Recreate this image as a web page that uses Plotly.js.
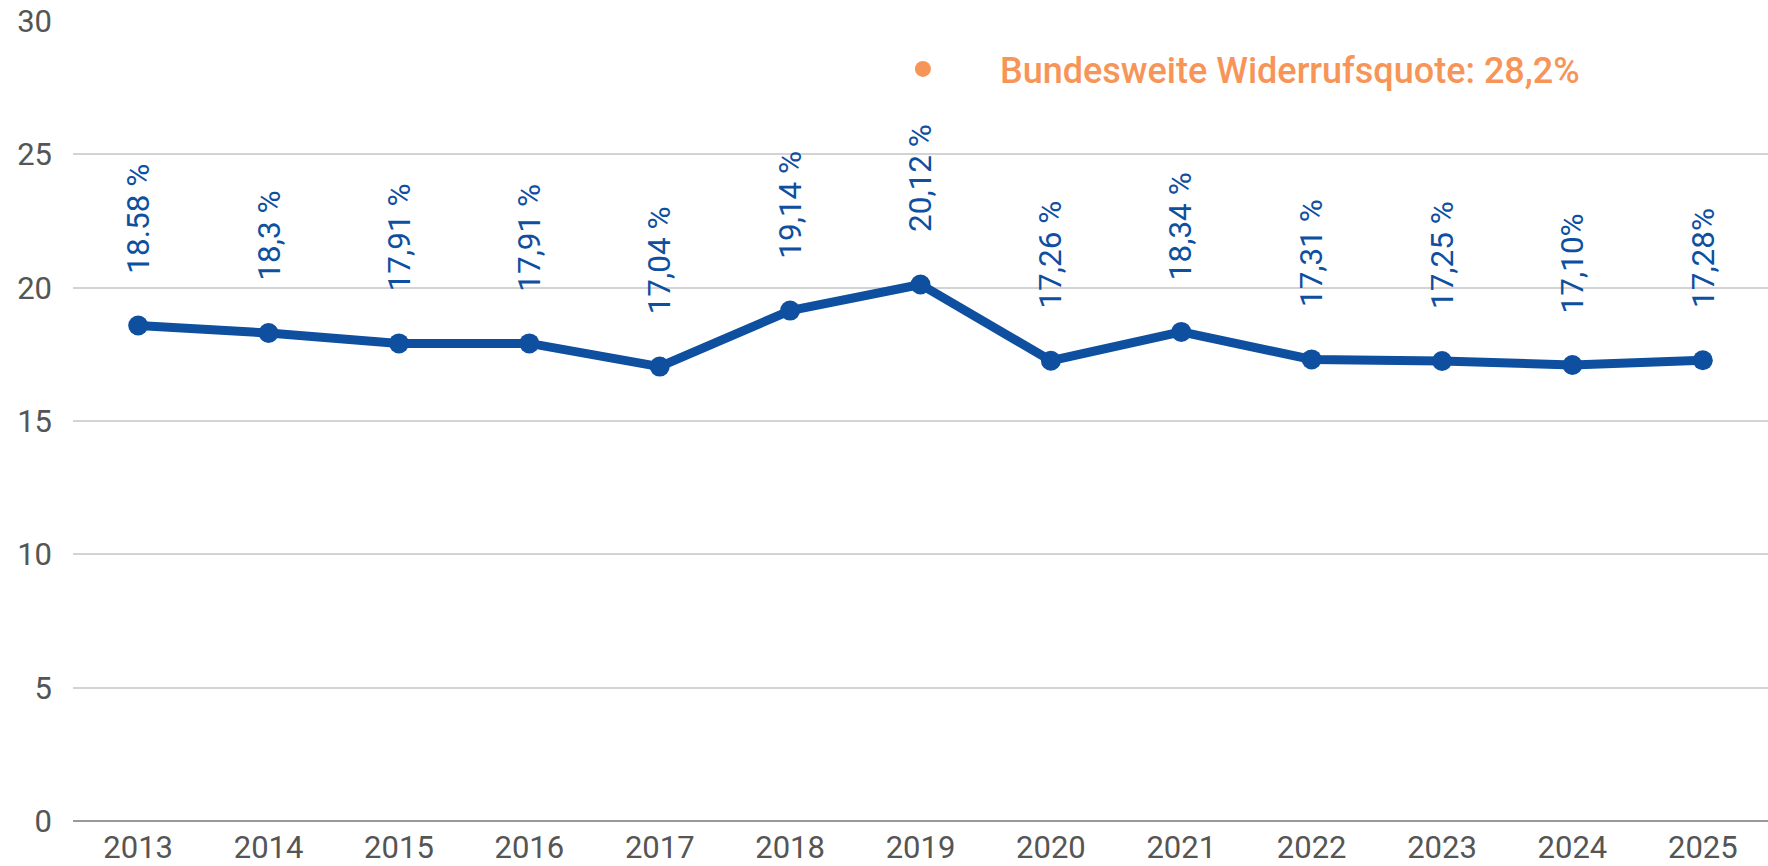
<!DOCTYPE html>
<html><head><meta charset="utf-8">
<script src="https://cdn.plot.ly/plotly-3.0.1.min.js"></script>
<style>html,body{margin:0;padding:0;background:#fff}#chart{width:1768px;height:866px}</style>
</head><body><div id="chart"></div>
<script>
var years = ['2013','2014','2015','2016','2017','2018','2019','2020','2021','2022','2023','2024','2025'];
var values = [18.58, 18.3, 17.91, 17.91, 17.04, 19.14, 20.12, 17.26, 18.34, 17.31, 17.25, 17.10, 17.28];
var labels = ['18.58 %','18,3 %','17,91 %','17,91 %','17,04 %','19,14 %','20,12 %','17,26 %','18,34 %','17,31 %','17,25 %','17,10%','17,28%'];
var legendName = 'Bundesweite Widerrufsquote: 28,2%';
var yTicks = [0,5,10,15,20,25,30];

var blue = '#0E4F9F';
var orange = '#F79559';

var traces = [
  {x: years, y: values, type: 'scatter', mode: 'lines+markers',
   line: {color: blue, width: 9}, marker: {color: blue, size: 20},
   showlegend: false, hoverinfo: 'x+y'},
  {x: [null], y: [null], type: 'scatter', mode: 'markers', name: legendName,
   marker: {color: orange, size: 19}, showlegend: true}
];

var annotations = years.map(function(yr, i){
  return {x: i, y: values[i], xref: 'x', yref: 'y', text: labels[i],
    textangle: -90, showarrow: false, xanchor: 'center', yanchor: 'bottom', yshift: 50,
    font: {family: 'Roboto, sans-serif', size: 31.5, color: blue}};
});

var layout = {
  width: 1768, height: 866,
  margin: {l: 73, r: 0, t: 21, b: 45},
  paper_bgcolor: '#fff', plot_bgcolor: '#fff',
  font: {family: 'Roboto, sans-serif', color: '#555'},
  xaxis: {type: 'category', range: [-0.5, 12.5], showgrid: false, zeroline: false,
    showline: false, ticks: '', tickfont: {size: 31, color: '#555'}, ticklabelstandoff: 5},
  yaxis: {range: [0, 30], tickvals: yTicks, showgrid: true, gridcolor: '#d3d3d3', gridwidth: 2,
    zeroline: true, zerolinecolor: '#999', zerolinewidth: 2, showline: false, ticks: '',
    tickfont: {size: 31, color: '#555'}, ticklabelstandoff: 20},
  showlegend: true,
  legend: {x: 0.456, y: 0.94, xanchor: 'left', yanchor: 'middle', itemwidth: 144,
    bgcolor: 'rgba(0,0,0,0)', font: {size: 36, color: orange, weight: 500}},
  annotations: annotations
};
Plotly.newPlot('chart', traces, layout, {displayModeBar: false, staticPlot: true});
</script></body></html>
